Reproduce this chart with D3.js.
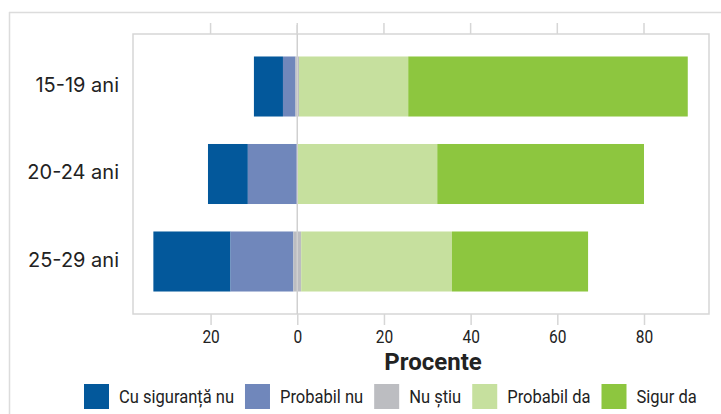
<!DOCTYPE html>
<html><head><meta charset="utf-8">
<script src="https://cdn.jsdelivr.net/npm/d3@7"></script>
<style>
html,body{margin:0;padding:0;background:#fff;}
svg{display:block;}
</style></head>
<body>
<svg id="chart" width="721" height="414"></svg>
<script>
// ---- data ----
const groups = ["15-19 ani", "20-24 ani", "25-29 ani"];
const seriesNames = ["Cu siguranță nu", "Probabil nu", "Nu știu", "Probabil da", "Sigur da"];
const cuSigurantaNu = [6.7, 9.2, 17.8];
const probabilNu   = [2.9, 11.4, 14.5];
const nuStiu       = [0.8, 0.0, 1.8];
const probabilDa   = [25.2, 32.3, 34.8];
const sigurDa      = [64.5, 47.7, 31.4];
const tickValues   = [-20, 0, 20, 40, 60, 80];
const colors = ["#03589b", "#7087bb", "#bcbdc1", "#c6e09e", "#8dc63f"];

const svg = d3.select("#chart");
const W = 721, H = 414;
const panel = {left: 133, right: 709, top: 34, bottom: 314};

const x = d3.scaleLinear().domain([-37.9, 95]).range([panel.left, panel.right]);
const y = d3.scaleBand().domain(groups).range([panel.top, panel.bottom])
  .paddingInner(0.314).paddingOuter(0.257);

// outer frame lines
svg.append("line").attr("x1", 9).attr("x2", W).attr("y1", 12.5).attr("y2", 12.5)
  .attr("stroke", "#dcdcdc").attr("stroke-width", 1.5);
svg.append("line").attr("x1", 9.5).attr("x2", 9.5).attr("y1", 12).attr("y2", H)
  .attr("stroke", "#dcdcdc").attr("stroke-width", 1.5);

// panel
svg.append("rect").attr("x", panel.left).attr("y", panel.top)
  .attr("width", panel.right - panel.left).attr("height", panel.bottom - panel.top)
  .attr("fill", "none").attr("stroke", "#d6d6d6").attr("stroke-width", 1.5);

// build stacked segments (diverging, "Nu știu" centred on zero)
const rows = groups.map((g, i) => {
  const vals = [cuSigurantaNu[i], probabilNu[i], nuStiu[i], probabilDa[i], sigurDa[i]];
  let start = -(vals[0] + vals[1] + vals[2] / 2);
  return vals.map((v, k) => {
    const seg = {group: g, key: k, x0: start, x1: start + v};
    start += v;
    return seg;
  });
}).flat();

svg.append("g").selectAll("rect").data(rows).join("rect")
  .attr("x", d => x(d.x0))
  .attr("width", d => Math.max(0, x(d.x1) - x(d.x0)))
  .attr("y", d => y(d.group))
  .attr("height", y.bandwidth())
  .attr("fill", d => colors[d.key]);

// zero line
svg.append("line").attr("x1", x(0)).attr("x2", x(0)).attr("y1", 25).attr("y2", panel.bottom)
  .attr("stroke", "#d0d0d0").attr("stroke-width", 1.5);

// top ticks
svg.append("g").selectAll("line").data(tickValues).join("line")
  .attr("x1", d => x(d)).attr("x2", d => x(d))
  .attr("y1", 23).attr("y2", panel.top)
  .attr("stroke", "#d6d6d6").attr("stroke-width", 1.5);

// bottom axis
const xAxis = d3.axisBottom(x).tickValues(tickValues).tickSize(11).tickPadding(6)
  .tickFormat(d => Math.abs(d));
const ax = svg.append("g").attr("transform", `translate(0,${panel.bottom})`).call(xAxis);
ax.select(".domain").remove();
ax.selectAll(".tick line").attr("stroke", "#d6d6d6").attr("stroke-width", 1.5);
ax.selectAll(".tick text").attr("fill", "#222")
  .attr("font-family", "Roboto, sans-serif").attr("font-size", 18)
  .attr("transform", "scale(0.86,1)")
  .attr("x", 0)
  .attr("y", 29).attr("dy", 0);

// axis title
svg.append("text").attr("x", 433).attr("y", 370).attr("text-anchor", "middle")
  .attr("font-family", "Roboto, sans-serif").attr("font-weight", "bold")
  .attr("font-size", 24).attr("fill", "#222").text("Procente");

// y labels
svg.append("g").selectAll("text").data(groups).join("text")
  .attr("x", 119).attr("y", d => y(d) + y.bandwidth() / 2 + 5)
  .attr("text-anchor", "end")
  .attr("font-family", "Inter, 'Liberation Sans', sans-serif").attr("font-size", 20)
  .attr("fill", "#222").text(d => d);

// legend
const leg = svg.append("g");
let lx = 84;
const sx = 0.87;
seriesNames.forEach((name, k) => {
  leg.append("rect").attr("x", lx).attr("y", 384).attr("width", 25).attr("height", 25)
    .attr("fill", colors[k]);
  const g = leg.append("g").attr("transform", `translate(${lx + 35},403) scale(${sx},1)`);
  const t = g.append("text").attr("x", 0).attr("y", 0)
    .attr("font-family", "Roboto, sans-serif").attr("font-size", 19)
    .attr("fill", "#222").text(name);
  const w = t.node().getComputedTextLength() * sx;
  lx += 35 + w + 11;
});
</script>
</body></html>
